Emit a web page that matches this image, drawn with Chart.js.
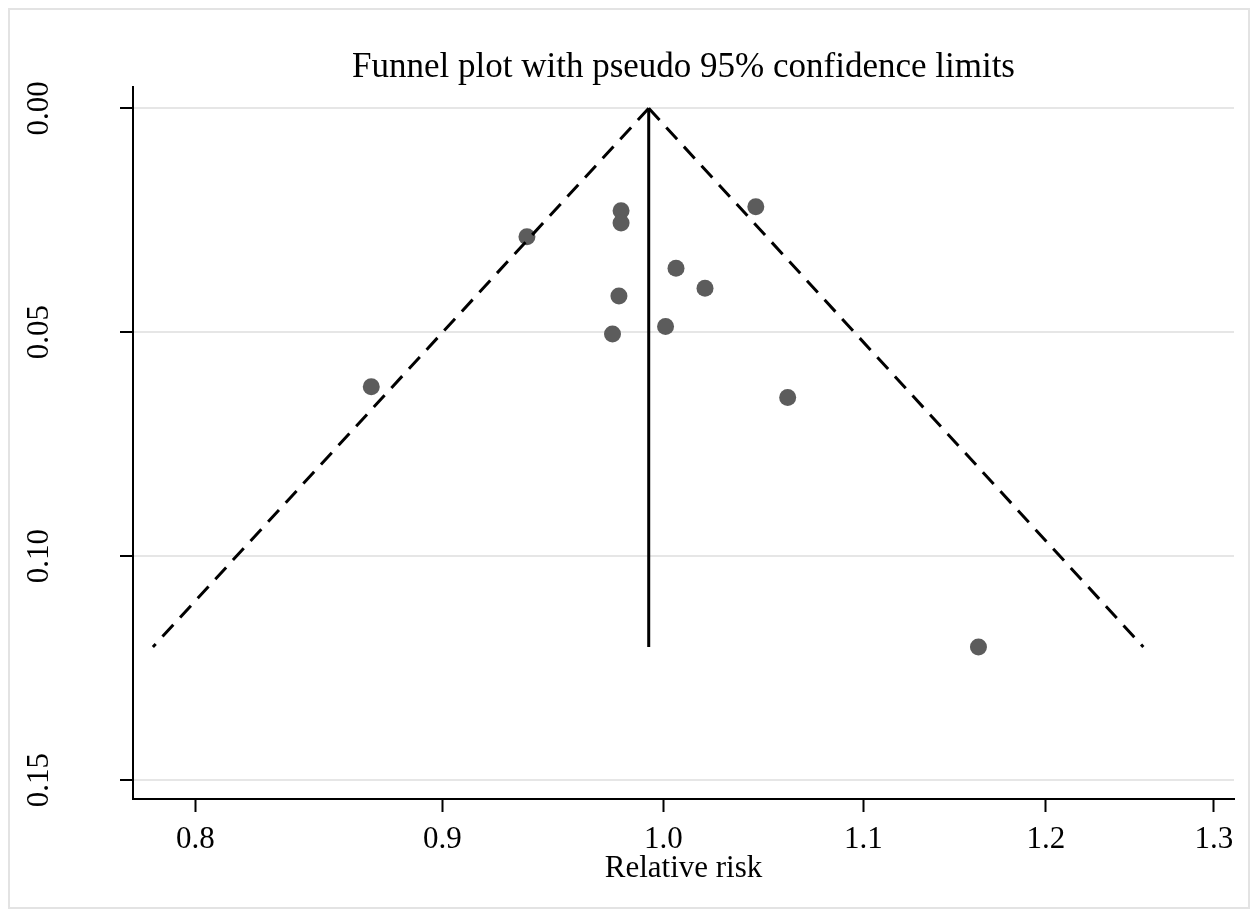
<!DOCTYPE html>
<html lang="en">
<head>
<meta charset="UTF-8">
<title>Funnel plot</title>
<script src="https://cdn.jsdelivr.net/npm/chart.js"></script>
<style>
  html, body { margin: 0; padding: 0; background: #fff; }
  canvas { display: block; }
</style>
</head>
<body>
<canvas id="funnel" width="1258" height="917"></canvas>
<script>
// study estimates: relative risk and standard error of log RR
const studyRR = [0.980, 0.980, 0.937, 1.045, 1.006, 1.020, 0.979, 0.976, 1.001, 0.870, 1.061, 1.162];
const studySE = [0.0229, 0.0256, 0.0287, 0.0220, 0.0357, 0.0402, 0.0419, 0.0504, 0.0487, 0.0622, 0.0646, 0.1203];

// pooled estimate and pseudo 95% limits at the largest standard error
const pooledRR = 0.993;
const limitRR = [0.784, 1.257];
const maxSE = 0.1203;

const xTicks = [0.8, 0.9, 1.0, 1.1, 1.2, 1.3];
const yTicks = [0, 0.05, 0.10, 0.15];

const serif = "'Liberation Serif', 'Times New Roman', serif";

// light frame round the whole graph
const framePlugin = {
    id: 'frame',
    beforeDraw(chart) {
        const ctx = chart.ctx;
        ctx.save();
        ctx.fillStyle = '#fff';
        ctx.fillRect(0, 0, chart.width, chart.height);
        ctx.strokeStyle = '#e3e3e3';
        ctx.lineWidth = 2;
        ctx.strokeRect(9, 9, chart.width - 18, chart.height - 18);
        ctx.restore();
    }
};

const points = studyRR.map((x, i) => ({ x: x, y: studySE[i] }));

new Chart(document.getElementById('funnel'), {
    type: 'scatter',
    data: {
        datasets: [
            {
                data: [{ x: pooledRR, y: 0 }, { x: limitRR[0], y: maxSE }],
                showLine: true, borderColor: '#000', borderWidth: 3,
                borderDash: [16, 10], pointRadius: 0
            },
            {
                data: [{ x: pooledRR, y: 0 }, { x: limitRR[1], y: maxSE }],
                showLine: true, borderColor: '#000', borderWidth: 3,
                borderDash: [16, 10], pointRadius: 0
            },
            {
                data: [{ x: pooledRR, y: 0 }, { x: pooledRR, y: maxSE }],
                showLine: true, borderColor: '#000', borderWidth: 3, pointRadius: 0
            },
            {
                data: points,
                pointRadius: 8.5, pointBackgroundColor: '#5c5c5c', pointBorderWidth: 0
            }
        ]
    },
    options: {
        responsive: false,
        devicePixelRatio: 1,
        animation: false,
        layout: { padding: { left: 0, right: 24, top: 0, bottom: 0 } },
        plugins: {
            legend: { display: false },
            tooltip: { enabled: false },
            title: {
                display: true,
                fullSize: false,
                text: 'Funnel plot with pseudo 95% confidence limits',
                color: '#000',
                font: { family: serif, size: 35, weight: 'normal', lineHeight: 38 / 35 },
                padding: { top: 49, bottom: 0 }
            }
        },
        scales: {
            x: {
                type: 'logarithmic',
                min: 0.7766,
                max: 1.3125,
                afterBuildTicks: s => { s.ticks = xTicks.map(v => ({ value: v })); },
                afterFit: s => { s.height = 118; },
                ticks: {
                    callback: v => Number(v).toFixed(1),
                    color: '#000',
                    font: { family: serif, size: 31 },
                    padding: 9,
                    autoSkip: false,
                    minRotation: 0,
                    maxRotation: 0
                },
                grid: {
                    drawOnChartArea: false,
                    drawTicks: true,
                    tickLength: 13,
                    tickColor: '#000',
                    tickWidth: 2
                },
                border: { display: true, color: '#000', width: 2 },
                title: {
                    display: true,
                    text: 'Relative risk',
                    color: '#000',
                    font: { family: serif, size: 31, lineHeight: 1.2 },
                    padding: { top: 0, bottom: 30 }
                }
            },
            y: {
                type: 'linear',
                reverse: true,
                min: -0.00476,
                max: 0.15424,
                afterBuildTicks: s => { s.ticks = yTicks.map(v => ({ value: v })); },
                afterFit: s => { s.width = 133; },
                ticks: {
                    callback: v => Number(v).toFixed(2),
                    color: '#000',
                    font: { family: serif, size: 31 },
                    minRotation: 90,
                    maxRotation: 90,
                    crossAlign: 'center',
                    padding: 53
                },
                grid: {
                    color: '#e6e6e6',
                    lineWidth: 2,
                    drawTicks: true,
                    tickLength: 13,
                    tickColor: '#000',
                    tickWidth: 2
                },
                border: { display: true, color: '#000', width: 2 }
            }
        }
    },
    plugins: [framePlugin]
});
</script>
</body>
</html>
